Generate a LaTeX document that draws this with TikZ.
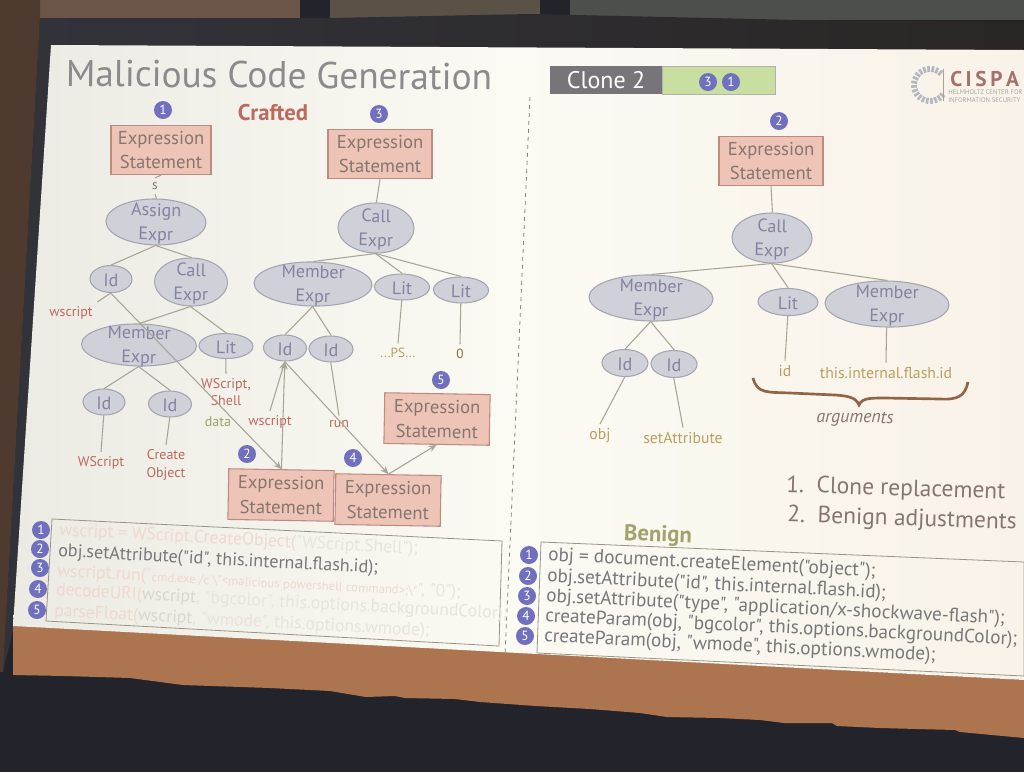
\documentclass[tikz,border=0pt]{standalone}
\usepackage{fontspec}
\setmainfont{PT Sans}[Ligatures=TeXOff]
\usetikzlibrary{shapes.geometric,arrows.meta}
\definecolor{slideA}{HTML}{EBEAE3}
\definecolor{slideB}{HTML}{FBFAF3}
\definecolor{slideC}{HTML}{F9F2E8}
\definecolor{frameK}{HTML}{32333A}
\definecolor{frameR}{HTML}{2A2625}
\definecolor{wallL}{HTML}{4E3A2E}
\definecolor{wallB}{HTML}{6A5548}
\definecolor{wallC}{HTML}{5A5246}
\definecolor{wallD}{HTML}{4D4F4A}
\definecolor{stripK}{HTML}{AC7550}
\definecolor{floorK}{HTML}{23242B}
\definecolor{boxF}{HTML}{EDC4B6}
\definecolor{boxD}{HTML}{C08A80}
\definecolor{boxT}{HTML}{86766F}
\definecolor{ellF}{HTML}{CFD0D8}
\definecolor{ellD}{HTML}{A3A6B2}
\definecolor{ellT}{HTML}{8383A2}
\definecolor{edgeC}{HTML}{A9A595}
\definecolor{redT}{HTML}{BC6A5E}
\definecolor{oliveT}{HTML}{A3A26B}
\definecolor{goldT}{HTML}{B8A05E}
\definecolor{badgeF}{HTML}{7070BE}
\definecolor{codeT}{HTML}{77787A}
\definecolor{fadeR}{HTML}{EFD8CE}
\definecolor{fadeG}{HTML}{E6E4DC}
\definecolor{fadeM}{HTML}{DBD6CC}
\definecolor{titleT}{HTML}{8B8A8C}
\definecolor{cloneG}{HTML}{C9DFA2}
\definecolor{cloneK}{HTML}{77757A}
\newcommand\PX[2]{\fontsize{#1}{#2}\selectfont}
\tikzset{
 stmt/.style={draw=boxD,fill=boxF,line width=.8pt,inner sep=0pt,align=center,text=boxT,font=\PX{14}{18.5},minimum width=76pt,minimum height=37pt},
 ell/.style={ellipse,draw=ellD,fill=ellF,line width=.8pt,inner sep=0pt},
 elab/.style={text=ellT,align=center,font=\PX{13.5}{18},yshift=-1.2pt},
 link/.style={draw=edgeC,line width=.8pt},
 arrow/.style={link,-{Stealth[length=6pt,width=5pt]}},
 leafr/.style={text=redT,align=center,font=\PX{10.5}{13}},
 leafg/.style={text=goldT,align=center,font=\PX{11.8}{13}},
 badge/.style={circle,fill=badgeF,text=white,inner sep=0pt,minimum size=13.5pt,font=\PX{10}{10}},
 code/.style={anchor=west,text=codeT,font=\PX{13.6}{15}},
 rcode/.style={anchor=west,text=codeT,font=\PX{14.4}{17}},
 fader/.style={anchor=west,text=fadeG,font=\PX{13.2}{15}},
}
\newcommand\EN[6]{\node[ell,minimum width=#4*.75pt,minimum height=#5*.75pt,rotate=-1,label={[elab,rotate=-1]center:#6}] (#1) at (#2,#3) {};}
\begin{document}
\begin{tikzpicture}[x=.75pt,y=-.75pt]
\useasboundingbox (0,0) rectangle (1024,772);
\clip (0,0) rectangle (1024,772);
% surroundings
\fill[floorK] (0,0) rectangle (1024,772);
\fill[wallB] (40,0) rectangle (300,20);
\fill[wallC] (330,0) rectangle (540,20);
\fill[wallD] (570,0) rectangle (1024,20);
\shade[left color=frameK,right color=frameR] (40,18) -- (330,18) -- (530,14) -- (800,20) -- (1024,22) -- (1024,60) -- (60,60) -- (13,630) -- (3,672) -- cycle;
\fill[wallL] (0,0) -- (40,0) -- (40,18) -- (3,672) -- (0,672) -- cycle;
\fill[stripK] (13,625) -- (1024,680) -- (1024,738) -- (960,732) -- (955,730) -- (880,728) -- (837,726) -- (832,723) -- (784,723) -- (760,720) -- (720,718) -- (667,717) -- (640,713) -- (590,709) -- (536,706) -- (480,702) -- (455,699) -- (405,698) -- (395,696) -- (366,697) -- (330,691) -- (270,688) -- (183,685) -- (130,678) -- (65,676) -- (13,675) -- cycle;
% slide
\shade[left color=slideA,right color=slideC,middle color=slideB] (51,45) -- (1024,50) -- (1024,680) -- (13,626) -- cycle;
% title
\node[text=titleT,font=\PX{28}{30},rotate=-.5] (title) at (279,75) {Malicious Code Generation};
\node[text=redT,font=\bfseries\PX{17}{18}] (crafted) at (273,113) {Crafted};
\node[text=oliveT,font=\bfseries\PX{17}{18},rotate=-2] (benign) at (658,536) {Benign};
\draw[edgeC!80!black,dash pattern=on 3pt off 3pt,line width=.6pt] (530,97) -- (505,655);
% clone bar
\node[fill=cloneK,text=white,minimum width=84pt,minimum height=21pt,inner sep=0pt,font=\PX{18}{20}] (clone) at (606,80) {Clone 2};
\node[fill=cloneG,draw=gray!60,line width=.5pt,minimum width=85pt,minimum height=21pt,inner sep=0pt] (cloneg) at (718.5,80) {};
\node[badge] (cb3) at (708,82) {3};
\node[badge] (cb1) at (731,82) {1};
% logo
\foreach \a in {40,55,...,320} \draw[ellD!80,line width=2pt] (930,85) ++(\a:13) -- ++(\a:6);
\draw[edgeC,line width=.5pt] (943,69) -- (943,101);
\node[anchor=west,text=redT!60!gray,font=\bfseries\PX{16}{20},inner sep=0pt] (cispa) at (950,79) {C\,I\,S\,P\,A};
\node[anchor=west,text=gray!70,font=\PX{5}{6.5},align=left,inner sep=0pt] (helm) at (948,96) {HELMHOLTZ CENTER FOR\\INFORMATION SECURITY};
% left tree
\node[badge] (b1) at (163,110) {1};
\node[stmt,minimum width=75pt,minimum height=37pt] (e1) at (161,150) {Expression\\Statement};
\EN{assign}{156}{222}{100}{46}{Assign\\Expr}
\EN{id1}{111}{279}{42}{27}{Id}
\EN{call1}{191}{282}{73}{48}{Call\\Expr}
\EN{mem1}{139}{345}{115}{42}{Member\\Expr}
\EN{lit1}{226}{346}{54}{25}{Lit}
\EN{id2}{104}{402}{42}{26}{Id}
\EN{id3}{170}{404}{43}{26}{Id}
\node[text=boxT,font=\PX{10}{12}] (sl) at (155,186) {s};
\node[leafr] (wsc1) at (71,313) {wscript};
\node[leafr] (wsh) at (226,392) {WScript,\\Shell};
\node[text=oliveT,font=\PX{10.5}{13}] (data) at (218,422) {data};
\node[leafr] (wsc2) at (101,463) {WScript};
\node[leafr] (cro) at (166,465) {Create\\Object};
\draw[link] (e1.south) -- (sl.north);
\draw[link] (sl.south) -- (assign.north);
\draw[link] (assign.south) -- (id1.north);
\draw[link] (assign.south) -- (call1.north);
\draw[link] (id1.south) -- (wsc1.north east);
\draw[link] (call1.south) -- (mem1.north);
\draw[link] (call1.south) -- (lit1.north);
\draw[link] (lit1.south) -- (wsh.north);
\draw[link] (mem1.south) -- (id2.north);
\draw[link] (mem1.south) -- (id3.north);
\draw[link] (id2.south) -- (wsc2.north);
\draw[link] (id3.south) -- (cro.north);
% middle tree
\node[badge] (b3) at (379,114) {3};
\node[stmt,minimum width=78pt] (e3) at (380,154) {Expression\\Statement};
\EN{call3}{376}{228}{76}{50}{Call\\Expr}
\EN{mem3}{313}{284}{118}{44}{Member\\Expr}
\EN{lit3}{402}{287}{55}{26}{Lit}
\EN{lit4}{461}{290}{55}{26}{Lit}
\EN{id4}{285}{348}{43}{26}{Id}
\EN{id5}{331}{349}{44}{26}{Id}
\node[text=goldT,font=\PX{10}{13}] (ps) at (398,353) {...PS...};
\node[text=goldT!70!black,font=\PX{10}{13}] (zero) at (460,354) {0};
\node[leafr] (wsc3) at (270,422) {wscript};
\node[leafr] (run) at (339,424) {run};
\node[stmt,rotate=-1,minimum width=79pt,minimum height=38pt] (e2) at (281,495) {Expression\\Statement};
\node[stmt,rotate=-1,minimum width=79pt,minimum height=38pt] (e4) at (388,500) {Expression\\Statement};
\node[stmt,rotate=-1,minimum width=79pt,minimum height=38pt] (e5) at (437,419) {Expression\\Statement};
\node[badge] (b2) at (247,454) {2};
\node[badge] (b4) at (353,458) {4};
\node[badge] (b5) at (441,380) {5};
\draw[link] (e3.south) -- (call3.north);
\draw[link] (call3.south) -- (mem3.north);
\draw[link] (call3.south) -- (lit3.north);
\draw[link] (call3.south) -- (lit4.north);
\draw[link] (mem3.south) -- (id4.north);
\draw[link] (mem3.south) -- (id5.north);
\draw[link] (lit3.south) -- (ps.north);
\draw[link] (lit4.south) -- (zero.north);
\draw[link] (id5.south) -- (run.north);
\draw[arrow] (wsc3.north) -- (id4.south);
\draw[arrow] (e2.north) -- (id4.south);
\draw[arrow] (id1.south) -- (e2.north);
\draw[arrow] (id4.south) -- (e4.north);
\draw[arrow] (e4.north) -- (e5.south);
% right tree
\node[badge] (b2r) at (779,121) {2};
\node[stmt,minimum width=78pt] (er) at (771,161) {Expression\\Statement};
\EN{callr}{772}{238}{80}{50}{Call\\Expr}
\EN{memr}{651}{298}{124}{46}{Member\\Expr}
\EN{litr}{788}{302}{60}{27}{Lit}
\EN{memr2}{887}{304}{124}{46}{Member\\Expr}
\EN{idr}{625}{363}{46}{27}{Id}
\EN{idr2}{674}{364}{46}{27}{Id}
\node[leafg] (obj) at (600,436) {obj};
\node[leafg] (seta) at (683,438) {setAttribute};
\node[leafg] (idl) at (785,371) {id};
\node[leafg] (thisl) at (886,373) {this.internal.flash.id};
\draw[link] (er.south) -- (callr.north);
\draw[link] (callr.south) -- (memr.north);
\draw[link] (callr.south) -- (litr.north);
\draw[link] (callr.south) -- (memr2.north);
\draw[link] (memr.south) -- (idr.north);
\draw[link] (memr.south) -- (idr2.north);
\draw[link] (idr.south) -- (obj.north);
\draw[link] (idr2.south) -- (seta.north);
\draw[link] (litr.south) -- (idl.north);
\draw[link] (memr2.south) -- (thisl.north);
\draw[draw=stripK!85!black,line width=2pt] (753,378) .. controls (757,394) and (768,392) .. (790,393) -- (835,395) .. controls (850,396) and (856,398) .. (859,405) .. controls (862,398) and (870,398) .. (885,398) -- (940,399) .. controls (958,400) and (965,396) .. (968,382);
\node[text=boxT,font=\itshape\PX{13.5}{15},rotate=-1] (args) at (855,419) {arguments};
\node[text=boxT,anchor=west,font=\PX{17.6}{18},rotate=-1.8,inner sep=0pt] (l1) at (786,486) {1.\ \ Clone replacement};
\node[text=boxT,anchor=west,font=\PX{17.6}{18},rotate=-1.8,inner sep=0pt] (l2) at (787,516) {2.\ \ Benign adjustments};
% left code
\draw[edgeC!90!black,line width=.6pt] (52,519) -- (502,541) -- (499,646) -- (46,621) -- cycle;
\foreach \n/\x/\y in {1/41/530,2/40/549,3/40/568,4/38/589,5/37/610}
 \node[badge] (lb\n) at (\x,\y) {\n};
\node[fader,rotate=-3,inner sep=0pt] (lc1) at (59,531) {\textcolor{fadeR}{wscript = WScript.CreateObject(}"WScript.Shell");};
\node[code,rotate=-3,inner sep=0pt] (lc2) at (58,552) {obj.setAttribute("id", this.internal.flash.id);};
\node[fader,rotate=-3,inner sep=0pt] (lc3) at (57,572) {\textcolor{fadeR}{wscript.run(}"{\PX{9.5}{11}\textcolor{fadeR}{cmd.exe /c \textbackslash"<malicious powershell command>;\textbackslash"}}", "0");};
\node[fader,rotate=-3,inner sep=0pt] (lc4) at (56,591) {\textcolor{fadeR}{decodeURI(}\textcolor{fadeM}{wscript}, "bgcolor", this.options.backgroundColor);};
\node[fader,rotate=-3,inner sep=0pt] (lc5) at (54,612) {\textcolor{fadeR}{parseFloat(}\textcolor{fadeM}{wscript}, "wmode", this.options.wmode);};
% right code
\draw[edgeC!90!black,line width=.6pt] (541,542) -- (1024,562) -- (1024,676) -- (537,653) -- cycle;
\foreach \n/\x/\y in {1/529/555,2/528/576,3/527/596,4/526/616,5/525/636}
 \node[badge] (rb\n) at (\x,\y) {\n};
\node[rcode,rotate=-2.8,inner sep=0pt] (rc1) at (548,556) {obj = document.createElement("object");};
\node[rcode,rotate=-2.8,inner sep=0pt] (rc2) at (547,577) {obj.setAttribute("id", this.internal.flash.id);};
\node[rcode,rotate=-2.8,inner sep=0pt] (rc3) at (546,597) {obj.setAttribute("type", "application/x-shockwave-flash");};
\node[rcode,rotate=-2.8,inner sep=0pt] (rc4) at (545,617) {createParam(obj, "bgcolor", this.options.backgroundColor);};
\node[rcode,rotate=-2.8,inner sep=0pt] (rc5) at (544,637) {createParam(obj, "wmode", this.options.wmode);};
\end{tikzpicture}
\end{document}
